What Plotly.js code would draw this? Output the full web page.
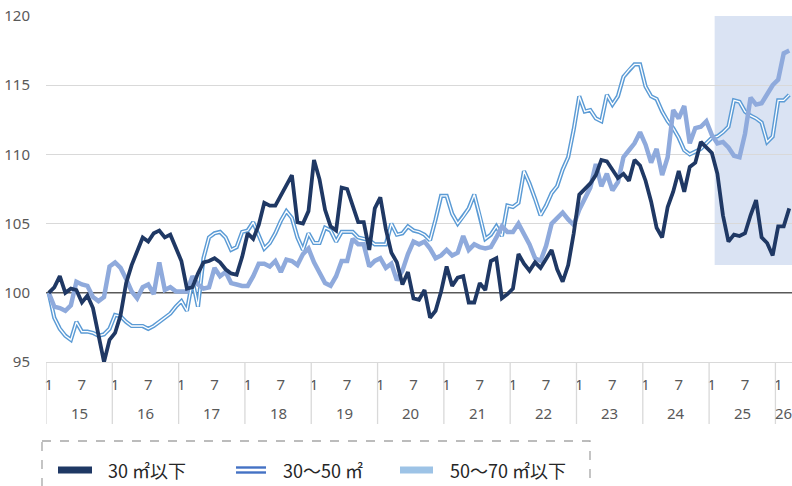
<!DOCTYPE html>
<html>
<head>
<meta charset="utf-8">
<script src="https://cdn.plot.ly/plotly-3.0.1.min.js"></script>
<style>html,body{margin:0;padding:0;background:#fff;}#chart{width:792px;height:486px;}</style>
</head>
<body>
<div id="chart"></div>
<script>
// ---- data (monthly index, Jan 2015 = 100) ----
const startYear = 2015;
const yearLabels = ["15","16","17","18","19","20","21","22","23","24","25","26"];
const monthTickLabels = ["1","7"];
const seriesNames = ["30 ㎡以下", "30～50 ㎡", "50～70 ㎡以下"];

const s30 = [
  100.0,100.4,101.2,100.0,100.3,100.2,99.3,99.8,98.9,97.0,95.0,96.6,
  97.1,98.4,100.7,102.0,103.0,104.0,103.7,104.3,104.5,104.0,104.2,103.3,
  102.3,100.3,100.4,101.4,102.2,102.3,102.5,102.2,101.7,101.4,101.3,102.6,
  104.3,103.9,104.9,106.5,106.3,106.3,107.0,107.8,108.5,105.1,105.0,105.9,
  109.6,108.2,106.0,104.8,104.5,107.6,107.5,106.3,105.1,105.1,103.1,106.1,
  106.9,104.6,102.9,102.2,100.6,101.5,99.6,99.5,100.2,98.2,98.7,100.1,
  101.9,100.5,101.1,101.2,99.3,99.3,100.7,100.2,102.3,102.5,99.6,99.9,
  100.3,102.8,102.1,101.6,102.2,101.8,102.5,103.1,101.7,100.8,102.0,104.3,
  107.1,107.5,107.9,108.5,109.6,109.5,108.9,108.3,108.6,108.1,109.6,109.2,
  108.1,106.6,104.7,104.0,106.2,107.3,108.8,107.3,109.1,109.4,110.9,110.5,
  110.1,108.6,105.6,103.7,104.2,104.1,104.3,105.6,106.7,104.0,103.6,102.7,
  104.8,104.8,106.1
];
const s30to50 = [
  100.0,98.2,97.4,96.9,96.6,97.9,97.2,97.2,97.1,96.9,97.0,97.4,
  98.4,98.3,97.9,97.6,97.6,97.6,97.4,97.6,97.9,98.2,98.5,99.0,
  99.4,98.7,100.9,99.0,102.5,104.0,104.3,104.4,104.0,103.1,103.3,104.4,
  104.5,105.1,104.2,103.2,103.6,104.3,105.2,105.9,105.4,104.0,103.1,104.3,
  103.6,103.6,104.7,104.5,103.7,104.4,104.4,104.4,104.0,103.9,103.8,103.5,
  103.5,103.5,105.0,104.2,104.3,104.8,104.5,104.4,104.2,103.8,105.3,107.0,
  107.0,105.7,105.0,105.5,106.1,107.1,105.6,103.9,104.2,104.8,104.1,106.3,
  106.2,106.5,108.8,107.9,106.8,105.6,106.3,107.2,107.7,108.9,109.8,111.8,
  114.2,113.1,113.2,112.6,112.4,114.3,113.6,114.2,115.6,116.1,116.5,116.5,
  114.9,114.2,114.0,113.1,112.4,111.9,111.2,110.3,110.0,110.2,110.4,110.8,
  111.2,111.3,111.6,112.0,113.9,113.8,113.1,112.8,112.6,112.3,110.9,111.3,
  113.9,113.9,114.3
];
const s50to70 = [
  100.0,99.0,98.9,98.7,99.1,100.8,100.6,100.5,99.7,99.4,99.7,101.9,
  102.2,101.8,101.0,100.1,99.6,100.4,100.6,99.9,102.2,100.2,100.4,100.1,
  100.1,100.1,101.2,100.6,100.3,100.4,101.8,101.2,101.5,100.7,100.6,100.5,
  100.5,101.2,102.1,102.1,101.9,102.3,101.5,102.4,102.3,102.0,102.8,103.2,
  102.2,101.4,100.7,100.5,101.2,102.3,102.3,103.9,103.5,103.5,101.9,102.3,
  102.5,101.8,102.1,100.9,101.6,102.8,103.7,103.5,103.7,103.2,102.5,102.7,
  103.1,102.7,102.9,104.1,103.1,103.5,103.3,103.2,103.3,104.0,104.8,104.4,
  104.4,105.0,104.3,103.5,102.5,102.3,103.4,105.0,105.4,105.8,105.3,104.9,
  106.0,106.9,107.6,109.3,107.7,108.6,107.4,108.0,109.8,110.3,110.8,111.6,
  110.7,109.4,110.4,108.5,109.8,113.2,112.6,113.5,110.8,111.9,112.0,112.4,
  111.4,110.8,110.9,110.5,109.9,109.8,111.5,114.1,113.6,113.7,114.3,115.0,
  115.4,117.3,117.5
];
const baseValue = 100;
const highlightFromMonth = {year: 2025, month: 2};
const highlightYRange = [102, 120];

// ---- layout helpers ----
const W = 792, H = 486;
const M = {l: 46, r: 0, t: 16, b: 124};
const PW = W - M.l - M.r, PH = H - M.t - M.b;
const px = (x) => (x - M.l) / PW;          // pixel -> paper x
const py = (y) => (H - M.b - y) / PH;      // pixel -> paper y

const n = s30.length;
const xs = s30.map((_, i) => i);

// month ticks ("1" and "7" of each year)
const tickvals = [], ticktext = [];
for (let i = 0; i < n; i++) {
  const m = i % 12;
  if (m === 0) { tickvals.push(i); ticktext.push(monthTickLabels[0]); }
  if (m === 6) { tickvals.push(i); ticktext.push(monthTickLabels[1]); }
}

const grey = '#d9d9d9';
const shapes = [];
const annotations = [];

// highlight rectangle
const hlIdx = (highlightFromMonth.year - startYear) * 12 + (highlightFromMonth.month - 1);
shapes.push({type:'rect', xref:'x', yref:'y', x0: hlIdx - 0.5, x1: n - 0.5,
  y0: highlightYRange[0], y1: highlightYRange[1], fillcolor:'#dae3f3', line:{width:0}, layer:'below'});

// year separators + year labels
yearLabels.forEach((lab, k) => {
  const first = k * 12;
  const last = Math.min(first + 11, n - 1);
  shapes.push({type:'line', xref:'x', yref:'paper', x0: first - 0.5, x1: first - 0.5,
    y0: 0, y1: py(424), line:{color: grey, width:1.3}});
  annotations.push({xref:'x', yref:'paper', x: (first + last) / 2, y: py(413),
    text: lab, showarrow:false, xanchor:'center', yanchor:'middle',
    font:{family:'Noto Sans, sans-serif', size:15, color:'#595959'}});
});

// custom legend
shapes.push({type:'rect', xref:'paper', yref:'paper', x0: px(42), x1: px(590), y0: py(441), y1: py(510),
  line:{color:'#a6a6a6', width:1.3, dash:'dash'}, fillcolor:'rgba(0,0,0,0)'});
const legY = 470;
shapes.push({type:'line', xref:'paper', yref:'paper', x0: px(58), x1: px(92), y0: py(legY), y1: py(legY),
  line:{color:'#1f3864', width:7}});
shapes.push({type:'line', xref:'paper', yref:'paper', x0: px(236), x1: px(266), y0: py(legY-2.5), y1: py(legY-2.5),
  line:{color:'#4472c4', width:2.4}});
shapes.push({type:'line', xref:'paper', yref:'paper', x0: px(236), x1: px(266), y0: py(legY+2.5), y1: py(legY+2.5),
  line:{color:'#4472c4', width:2.4}});
shapes.push({type:'line', xref:'paper', yref:'paper', x0: px(400), x1: px(433), y0: py(legY), y1: py(legY),
  line:{color:'#9dc3e6', width:7}});
[[106, seriesNames[0]], [281, seriesNames[1]], [448, seriesNames[2]]].forEach(([x, t]) => {
  annotations.push({xref:'paper', yref:'paper', x: px(x), y: py(legY), text: t, showarrow:false,
    xanchor:'left', yanchor:'middle',
    font:{family:'"Noto Sans CJK JP", sans-serif', size:18, color:'#262626'}});
});

const traces = [
  {x: [-0.5, n - 0.5], y: [baseValue, baseValue], type:'scatter', mode:'lines', name:'base',
   line:{color:'#595959', width:1.6}, showlegend:false, hoverinfo:'skip'},
  {x: xs, y: s30to50, type:'scatter', mode:'lines', name: seriesNames[1],
   line:{color:'#5b9bd5', width:4.2}, showlegend:false, hoverinfo:'skip'},
  {x: xs, y: s30to50, type:'scatter', mode:'lines', name: seriesNames[1] + ' (inner)',
   line:{color:'#ffffff', width:1.3}, showlegend:false, hoverinfo:'skip'},
  {x: xs, y: s50to70, type:'scatter', mode:'lines', name: seriesNames[2],
   line:{color:'#8faadc', width:4.5}, showlegend:false},
  {x: xs, y: s30, type:'scatter', mode:'lines', name: seriesNames[0],
   line:{color:'#1f3864', width:3.8}, showlegend:false}
];

const layout = {
  width: W, height: H,
  margin: M,
  paper_bgcolor:'#ffffff', plot_bgcolor:'#ffffff',
  showlegend:false,
  xaxis: {range:[-0.5, n - 0.5], showgrid:false, zeroline:false,
    showline:true, linecolor: grey, linewidth:1.3,
    tickmode:'array', tickvals: tickvals, ticktext: ticktext,
    ticks:'outside', ticklen:9, tickcolor:'rgba(0,0,0,0)',
    tickfont:{family:'Noto Sans, sans-serif', size:15, color:'#595959'}},
  yaxis: {range:[95, 120], tickmode:'array', tickvals:[95,100,105,110,115,120],
    showgrid:true, gridcolor: grey, gridwidth:1.3,
    zeroline:false, showline:false,
    ticks:'outside', ticklen:12, tickcolor:'rgba(0,0,0,0)',
    tickfont:{family:'Noto Sans, sans-serif', size:15, color:'#595959'}},
  shapes: shapes,
  annotations: annotations
};

Plotly.newPlot('chart', traces, layout, {displayModeBar:false, staticPlot:true});
</script>
</body>
</html>
